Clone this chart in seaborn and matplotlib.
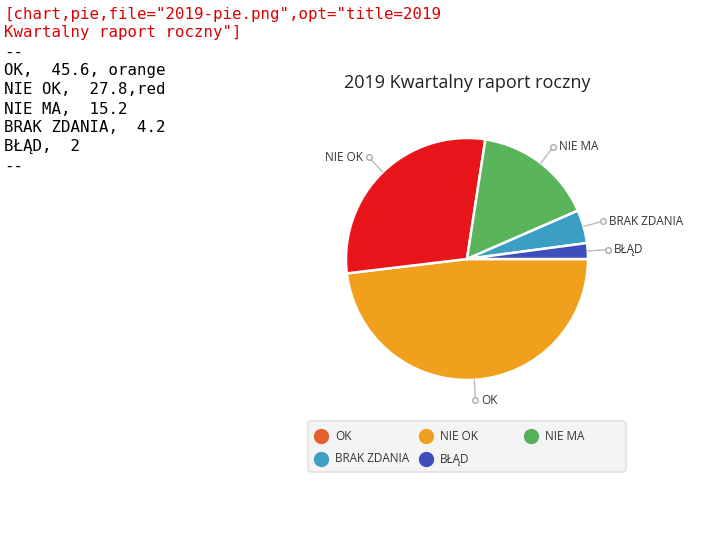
import numpy as np
import matplotlib
matplotlib.use("Agg")
import matplotlib.pyplot as plt
from matplotlib.lines import Line2D
from matplotlib.patches import FancyBboxPatch
import seaborn as sns

categories = ["OK", "NIE OK", "NIE MA", "BRAK ZDANIA", "BŁĄD"]
values = [45.6, 27.8, 15.2, 4.2, 2]
slice_colors = ["#f0a01c", "#e8161a", "#5ab45a", "#3a9fc2", "#3e4fbd"]
legend_colors = ["#e4602c", "#f0a020", "#55b05a", "#3d9fc3", "#3e4fbd"]
title = "2019 Kwartalny raport roczny"
source_lines = ['[chart,pie,file="2019-pie.png",opt="title=2019',
                'Kwartalny raport roczny"]', '--',
                'OK,  45.6, orange', 'NIE OK,  27.8,red', 'NIE MA,  15.2',
                'BRAK ZDANIA,  4.2', 'BŁĄD,  2', '--']

sns.set_style("white")
plt.rcParams['font.family'] = ['Open Sans', 'DejaVu Sans']
W, H = 726, 533
fig = plt.figure(figsize=(W/100, H/100), dpi=100)

def fx(x): return x / W
def fy(y): return 1 - y / H

for i, line in enumerate(source_lines):
    col = "#dd0000" if i < 2 else "black"
    fig.text(fx(4), fy(14 + 19*i), line, family="DejaVu Sans Mono", fontsize=11.3,
             color=col, va="center", ha="left")

fig.text(fx(467), fy(83), title, fontsize=13, color="#222", ha="center", va="center")

cx, cy, R = 467, 259, 121
ax = fig.add_axes([fx(cx-R), fy(cy+R), 2*R/W, 2*R/H])
wedges, _ = ax.pie(values, colors=slice_colors, startangle=0, counterclock=False,
                   wedgeprops=dict(edgecolor="white", linewidth=1.8))
ax.set_xlim(-1, 1); ax.set_ylim(-1, 1)
ax.set_aspect("auto")

for w, lab in zip(wedges, categories):
    mid = np.deg2rad((w.theta1 + w.theta2) / 2)
    r2 = 1.12 if lab not in ("BRAK ZDANIA", "BŁĄD") else 1.12
    ex, ey = np.cos(mid), np.sin(mid)
    dx, dy = ex * 1.17, ey * 1.17
    ax.plot([ex, dx], [ey, dy], color="#bbb", lw=1, clip_on=False)
    ax.plot([dx], [dy], "o", ms=4, mfc="white", mec="#aaa", clip_on=False)
    if abs(ex) < 0.3:
        ax.text(dx + 0.05, dy, lab, fontsize=8.5, color="#333", ha="left", va="center")
    elif ex < 0:
        ax.text(dx - 0.05, dy, lab, fontsize=8.5, color="#333", ha="right", va="center")
    else:
        ax.text(dx + 0.05, dy, lab, fontsize=8.5, color="#333", ha="left", va="center")

box = FancyBboxPatch((fx(308), fy(472)), fx(626) - fx(308), fy(421) - fy(472),
                     boxstyle="round,pad=0,rounding_size=0.005", transform=fig.transFigure,
                     facecolor="#f4f4f4", edgecolor="#dddddd", lw=1)
fig.patches.append(box)
pos = [(321, 436), (426, 436), (531, 436), (321, 459), (426, 459)]
for (px, py), lab, c in zip(pos, categories, legend_colors):
    fig.lines.append(Line2D([fx(px)], [fy(py)], marker="o", ms=10, color=c,
                            transform=fig.transFigure))
    fig.text(fx(px + 14), fy(py), lab, fontsize=8.5, color="#333", va="center", ha="left")

fig.savefig("out.png", dpi=100)
